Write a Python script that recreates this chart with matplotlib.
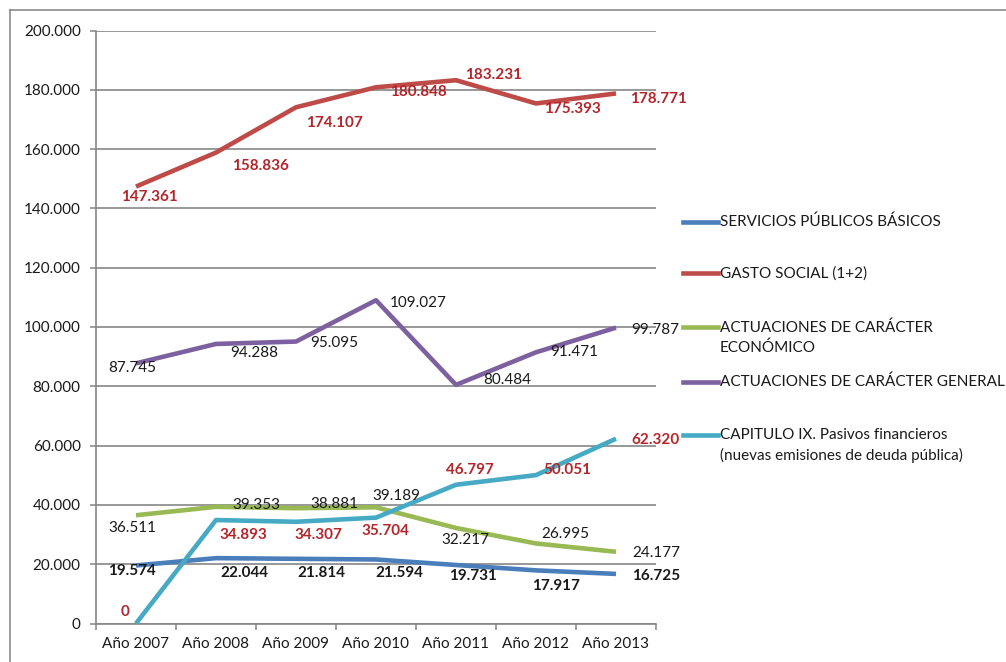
import matplotlib
matplotlib.use("Agg")
import matplotlib.pyplot as plt
from matplotlib.lines import Line2D
from matplotlib.ticker import FixedLocator, FuncFormatter

plt.rcParams['font.family'] = ['Lato', 'DejaVu Sans']

years = ["Año 2007", "Año 2008", "Año 2009", "Año 2010", "Año 2011", "Año 2012", "Año 2013"]

servicios = [19574, 22044, 21814, 21594, 19731, 17917, 16725]
gasto_social = [147361, 158836, 174107, 180848, 183231, 175393, 178771]
economico = [36511, 39353, 38881, 39189, 32217, 26995, 24177]
general = [87745, 94288, 95095, 109027, 80484, 91471, 99787]
pasivos = [0, 34893, 34307, 35704, 46797, 50051, 62320]

names = ["SERVICIOS PÚBLICOS BÁSICOS",
         "GASTO SOCIAL (1+2)",
         "ACTUACIONES DE CARÁCTER\nECONÓMICO",
         "ACTUACIONES DE CARÁCTER GENERAL",
         "CAPITULO IX. Pasivos financieros\n(nuevas emisiones de deuda pública)"]


def miles(v, pos=None):
    return "{:,}".format(int(round(v))).replace(",", ".")


W, H = 1006, 662
fig = plt.figure(figsize=(W / 100, H / 100), dpi=100)
ax = fig.add_axes([96 / W, 38.5 / H, 560 / W, 593 / H])

x = list(range(len(years)))
grey = "#868686"
red_lbl = "#B3262B"
black_lbl = "#1a1a1a"

# series: values, line colour, label colour, bold, label offsets (px right, px down)
series = [
    (servicios, "#4A7EBB", black_lbl, True,
     [(-4, 6), (28, 15), (25, 14), (23, 14), (17, 11), (20, 16), (40, 2)]),
    (gasto_social, "#BE4B48", red_lbl, True,
     [(13, 10), (44, 13), (38, 16), (42, 5), (38, -5), (36, 6), (42, 6)]),
    (economico, "#98B954", black_lbl, False,
     [(-4, 13), (40, -2), (38, -4), (20, -11), (9, 12), (29, -9), (40, 1)]),
    (general, "#7D60A0", black_lbl, False,
     [(-4, 5), (38, 9), (38, 1), (42, 3), (51, -5), (38, 0), (39, 2)]),
    (pasivos, "#46AAC5", red_lbl, True,
     [(-11, -11), (27, 15), (22, 13), (9, 13), (14, -15), (31, -5), (39, 1)]),
]

for vals, col, lcol, bold, offs in series:
    ax.plot(x, vals, color=col, lw=3.3, solid_joinstyle="round",
            solid_capstyle="butt", zorder=3)
    for xi, v, (dx, dy) in zip(x, vals, offs):
        ax.annotate(miles(v), (xi, v), xytext=(dx, -dy), textcoords="offset pixels",
                    ha="center", va="center", fontsize=11, color=lcol,
                    fontweight="bold" if bold else "normal", zorder=4)

ax.set_xlim(-0.5, len(years) - 0.5)
ax.set_ylim(0, 200000)
ax.set_yticks(range(0, 200001, 20000))
ax.yaxis.set_major_formatter(FuncFormatter(miles))
ax.set_xticks(x)
ax.set_xticklabels(years)
ax.xaxis.set_minor_locator(FixedLocator([i - 0.5 for i in range(len(years) + 1)]))
ax.tick_params(axis="x", which="major", length=0, pad=10, labelsize=11, colors="#1a1a1a")
ax.tick_params(axis="x", which="minor", length=4, width=1.1, color=grey, direction="out")
ax.tick_params(axis="y", length=4.5, width=1.1, color=grey, pad=6.5, labelsize=11,
               labelcolor="#1a1a1a")
ax.grid(axis="y", color=grey, lw=1.2)
ax.set_axisbelow(True)
for s in ["top", "right"]:
    ax.spines[s].set_visible(False)
for s in ["left", "bottom"]:
    ax.spines[s].set_color(grey)
    ax.spines[s].set_linewidth(1.2)

# legend on the right, drawn by hand like the spreadsheet one
leg_y = [222, 273, 327, 382, 435]
for (vals, col, _, _, _), name, yp in zip(series, names, leg_y):
    yf = 1 - yp / H
    fig.add_artist(Line2D([683 / W, 718 / W], [yf, yf], color=col, lw=3.3,
                          transform=fig.transFigure))
    fig.text(720 / W, 1 - (yp - 7) / H, name, ha="left", va="top", fontsize=11,
             color="#1a1a1a", linespacing=1.5)

# outer chart frame (cropped on right and bottom)
fig.add_artist(Line2D([10 / W, 1], [1 - 10 / H, 1 - 10 / H], color="#8c8c8c", lw=1.2,
                      transform=fig.transFigure))
fig.add_artist(Line2D([10 / W, 10 / W], [0, 1 - 10 / H], color="#8c8c8c", lw=1.2,
                      transform=fig.transFigure))

fig.savefig("out.png", dpi=100, facecolor="white")
